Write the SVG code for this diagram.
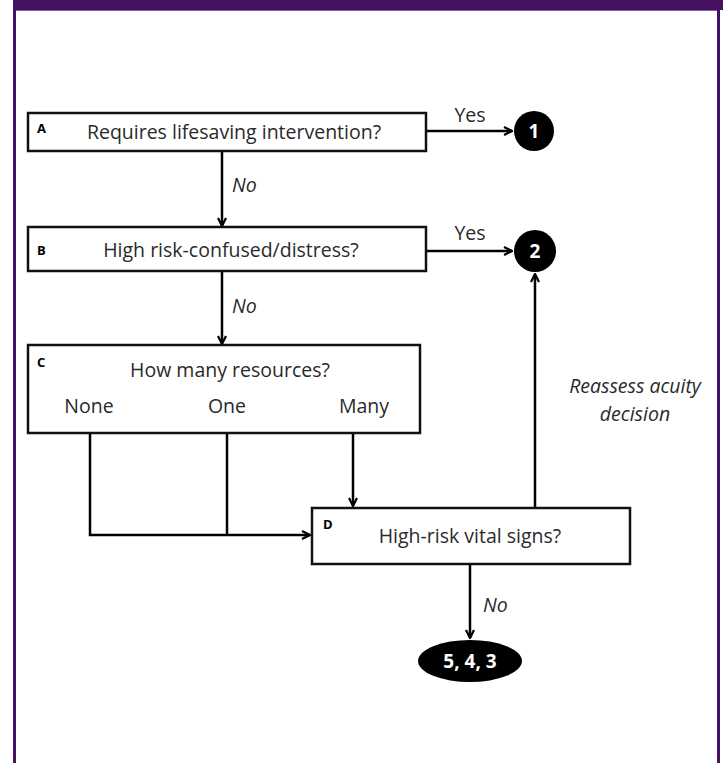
<svg xmlns="http://www.w3.org/2000/svg" width="723" height="763" viewBox="0 0 723 763">
<defs>
<marker id="ah" viewBox="0 0 10 10" refX="9" refY="5" markerWidth="4" markerHeight="4" orient="auto" markerUnits="strokeWidth">
<path d="M1,1 L9,5 L1,9" fill="none" stroke="#000" stroke-width="2.2"/>
</marker>
<style>
.box{fill:#fff;stroke:#111;stroke-width:2.5}
.lbl{font-family:"Open Sans","Noto Sans",sans-serif;font-size:19.5px;fill:#2a2a2a}
.it{font-family:"Open Sans","Noto Sans",sans-serif;font-size:19.5px;font-style:italic;fill:#2a2a2a}
.tag{font-family:"Open Sans","Noto Sans",sans-serif;font-size:13px;font-weight:bold;fill:#000}
.num{font-family:"Open Sans","Noto Sans",sans-serif;font-size:19px;font-weight:bold;fill:#fff}
.ln{fill:none;stroke:#000;stroke-width:2.5}
</style>
</defs>
<rect x="0" y="0" width="723" height="763" fill="#fff"/>
<g id="frame">
<rect x="13" y="0" width="710" height="10" fill="#461063"/>
<line x1="14.5" y1="10" x2="14.5" y2="763" stroke="#461063" stroke-width="3"/>
<line x1="718.5" y1="10" x2="718.5" y2="763" stroke="#461063" stroke-width="3"/>
<line x1="16" y1="10.5" x2="717" y2="10.5" stroke="#8a5aa8" stroke-width="1"/>
</g>
<g id="connectors">
<path class="ln" d="M426,131 H512" marker-end="url(#ah)"/>
<path class="ln" d="M222,151 V226" marker-end="url(#ah)"/>
<path class="ln" d="M426,251 H512" marker-end="url(#ah)"/>
<path class="ln" d="M222,271 V344" marker-end="url(#ah)"/>
<path class="ln" d="M90,433 V535 H310" marker-end="url(#ah)"/>
<path class="ln" d="M227,433 V535"/>
<path class="ln" d="M353,433 V506" marker-end="url(#ah)"/>
<path class="ln" d="M535,508 V274" marker-end="url(#ah)"/>
<path class="ln" d="M470,564 V638" marker-end="url(#ah)"/>
<text class="lbl" x="470" y="122" text-anchor="middle">Yes</text>
<text class="lbl" x="470" y="240" text-anchor="middle">Yes</text>
<text class="it" x="232" y="192">No</text>
<text class="it" x="232" y="313">No</text>
<text class="it" x="635" y="393" text-anchor="middle">Reassess acuity</text>
<text class="it" x="635" y="421" text-anchor="middle">decision</text>
<text class="it" x="483" y="612">No</text>
</g>
<g id="nodeA">
<rect class="box" x="28" y="113" width="398" height="38"/>
<text class="tag" x="37" y="133">A</text>
<text class="lbl" x="234" y="139" text-anchor="middle">Requires lifesaving intervention?</text>
</g>
<g id="node1">
<circle cx="534" cy="131" r="20" fill="#000"/>
<text class="num" x="534" y="138" text-anchor="middle">1</text>
</g>
<g id="nodeB">
<rect class="box" x="28" y="227" width="398" height="44"/>
<text class="tag" x="37" y="255">B</text>
<text class="lbl" x="231" y="257" text-anchor="middle">High risk-confused/distress?</text>
</g>
<g id="node2">
<circle cx="535" cy="251" r="21" fill="#000"/>
<text class="num" x="535" y="258" text-anchor="middle">2</text>
</g>
<g id="nodeC">
<rect class="box" x="28" y="345" width="392" height="88"/>
<text class="tag" x="37" y="367">C</text>
<text class="lbl" x="230" y="377" text-anchor="middle">How many resources?</text>
<text class="lbl" x="89" y="413" text-anchor="middle">None</text>
<text class="lbl" x="227" y="413" text-anchor="middle">One</text>
<text class="lbl" x="364" y="413" text-anchor="middle">Many</text>
</g>
<g id="nodeD">
<rect class="box" x="312" y="508" width="318" height="56"/>
<text class="tag" x="323" y="529">D</text>
<text class="lbl" x="470" y="543" text-anchor="middle">High-risk vital signs?</text>
</g>
<g id="node543">
<ellipse cx="470" cy="661" rx="52" ry="21" fill="#000"/>
<text class="num" x="470" y="668" text-anchor="middle">5, 4, 3</text>
</g>
</svg>
